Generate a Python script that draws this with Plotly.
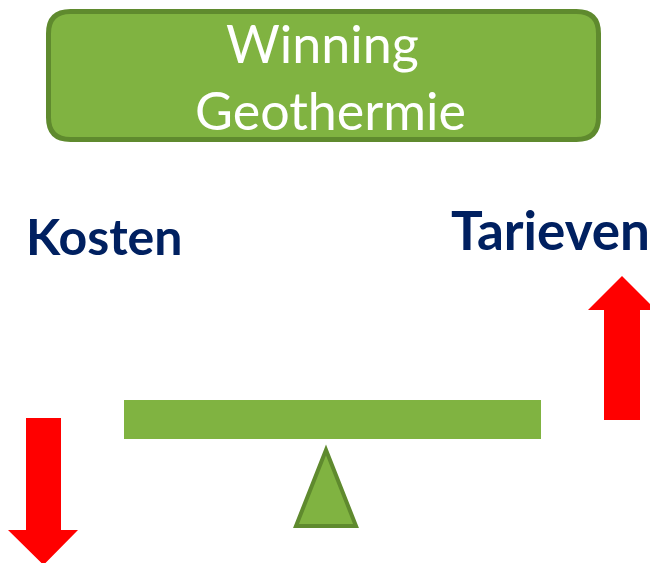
import plotly.graph_objects as go

W, H = 650, 563

title_lines = ["Winning", "Geothermie"]
left_label = "Kosten"
right_label = "Tarieven"

GREEN = "#80b341"
DARK_GREEN = "#5f8a2e"
NAVY = "#002060"
RED = "#ff0000"

fig = go.Figure()

def rounded_rect(x0, y0, x1, y1, r):
    return (f"M {x0+r},{y0} L {x1-r},{y0} Q {x1},{y0} {x1},{y0+r} "
            f"L {x1},{y1-r} Q {x1},{y1} {x1-r},{y1} L {x0+r},{y1} "
            f"Q {x0},{y1} {x0},{y1-r} L {x0},{y0+r} Q {x0},{y0} {x0+r},{y0} Z")

shapes = []
shapes.append(dict(type="path", path=rounded_rect(48.5, 11.5, 598.5, 139.5, 22),
                   fillcolor=GREEN, line=dict(color=DARK_GREEN, width=5), layer="below"))
shapes.append(dict(type="rect", x0=124, x1=541, y0=400, y1=439,
                   fillcolor=GREEN, line=dict(width=0)))
shapes.append(dict(type="path", path="M 326,450 L 356,526 L 296,526 Z",
                   fillcolor=GREEN, line=dict(color=DARK_GREEN, width=4)))
shapes.append(dict(type="path",
                   path="M 622,276 L 656,310 L 640,310 L 640,420 L 604,420 L 604,310 L 588,310 Z",
                   fillcolor=RED, line=dict(width=0)))
shapes.append(dict(type="path",
                   path="M 26,418 L 61,418 L 61,530 L 78,530 L 43.5,565 L 8,530 L 26,530 Z",
                   fillcolor=RED, line=dict(width=0)))
fig.update_layout(shapes=shapes)

ann = []
ann.append(dict(x=322, y=43, text=title_lines[0], showarrow=False, xanchor="center", yanchor="middle",
                font=dict(family="Lato", size=52, color="white")))
ann.append(dict(x=330, y=110, text=title_lines[1], showarrow=False, xanchor="center", yanchor="middle",
                font=dict(family="Lato", size=52, color="white")))
ann.append(dict(x=104, y=236, text="<b>" + left_label + "</b>", showarrow=False, xanchor="center", yanchor="middle",
                font=dict(family="Lato", size=50, color=NAVY)))
ann.append(dict(x=550, y=229, text="<b>" + right_label + "</b>", showarrow=False, xanchor="center", yanchor="middle",
                font=dict(family="Lato", size=53, color=NAVY)))
fig.update_layout(annotations=ann)

fig.update_xaxes(range=[0, W], visible=False, fixedrange=True)
fig.update_yaxes(range=[H, 0], visible=False, fixedrange=True)
fig.update_layout(width=W, height=H, margin=dict(l=0, r=0, t=0, b=0),
                  plot_bgcolor="white", paper_bgcolor="white", showlegend=False)

fig.write_html("out.html", config={"displayModeBar": False},
               post_script="document.body.style.margin='0';document.body.style.overflow='hidden';")
